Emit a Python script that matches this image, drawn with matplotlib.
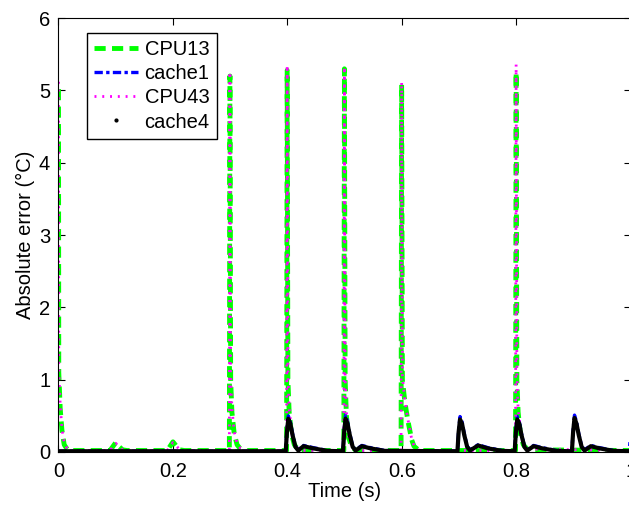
import matplotlib
matplotlib.use('Agg')
import matplotlib.pyplot as plt
from matplotlib.lines import Line2D

plt.rcParams['font.family'] = ['Liberation Sans', 'DejaVu Sans']
plt.rcParams['font.size'] = 14.5

# CPU13 (green dashed)
cpu13_t = [0.0, 0.0005, 0.003, 0.006, 0.010, 0.015, 0.025, 0.090, 0.100, 0.105, 0.112, 0.120,
           0.190, 0.200, 0.205, 0.212, 0.220, 0.2985, 0.2995, 0.3008, 0.303, 0.307, 0.312, 0.318,
           0.330, 0.3985, 0.3995, 0.4008, 0.403, 0.407, 0.412, 0.418, 0.430, 0.4985, 0.4995,
           0.5008, 0.503, 0.507, 0.512, 0.520, 0.5985, 0.5995, 0.6008, 0.605, 0.610, 0.617,
           0.621, 0.630, 0.7985, 0.7995, 0.8008, 0.803, 0.807, 0.812, 0.820, 1.0]
cpu13_v = [5.02, 1.1, 0.6, 0.3, 0.1, 0.04, 0.02, 0.02, 0.13, 0.08, 0.03, 0.02,
           0.02, 0.14, 0.09, 0.03, 0.02, 0.02, 5.20, 1.0, 0.55, 0.25, 0.1, 0.04,
           0.02, 0.02, 5.28, 1.0, 0.55, 0.25, 0.1, 0.04, 0.02, 0.02, 5.30,
           1.0, 0.5, 0.2, 0.07, 0.02, 0.02, 5.08, 1.0, 0.7, 0.45, 0.17,
           0.08, 0.02, 0.02, 5.25, 1.0, 0.55, 0.25, 0.1, 0.03, 0.02]

# CPU43 (magenta dotted)
cpu43_t = [0.0, 0.0005, 0.003, 0.006, 0.010, 0.015, 0.025, 0.090, 0.100, 0.105, 0.112, 0.120,
           0.190, 0.200, 0.205, 0.212, 0.220, 0.2985, 0.2995, 0.3008, 0.303, 0.307, 0.312, 0.318,
           0.330, 0.3985, 0.3995, 0.4008, 0.403, 0.407, 0.412, 0.418, 0.430, 0.4985, 0.4995,
           0.5008, 0.503, 0.507, 0.512, 0.520, 0.5985, 0.5995, 0.6008, 0.605, 0.610, 0.617,
           0.621, 0.630, 0.7985, 0.7995, 0.8008, 0.803, 0.807, 0.812, 0.820, 1.0]
cpu43_v = [5.12, 1.15, 0.65, 0.32, 0.12, 0.05, 0.02, 0.02, 0.12, 0.08, 0.03, 0.02,
           0.02, 0.13, 0.09, 0.03, 0.02, 0.02, 5.26, 1.05, 0.6, 0.28, 0.12, 0.05,
           0.02, 0.02, 5.35, 1.05, 0.6, 0.28, 0.12, 0.05, 0.02, 0.02, 5.33,
           1.05, 0.55, 0.22, 0.08, 0.02, 0.02, 5.12, 1.05, 0.72, 0.47, 0.18,
           0.09, 0.02, 0.02, 5.36, 1.05, 0.6, 0.28, 0.12, 0.04, 0.02]

# cache1 (blue dash-dot)
cache1_t = [0.0, 0.397, 0.3990, 0.4015, 0.405, 0.409, 0.414, 0.419, 0.428, 0.445, 0.470,
            0.497, 0.4990, 0.5015, 0.505, 0.509, 0.514, 0.519, 0.530, 0.545, 0.570,
            0.697, 0.6990, 0.7015, 0.705, 0.709, 0.714, 0.719, 0.733, 0.750, 0.775,
            0.797, 0.7990, 0.8015, 0.805, 0.809, 0.814, 0.819, 0.830, 0.845, 0.870,
            0.897, 0.8990, 0.9015, 0.905, 0.909, 0.914, 0.919, 0.930, 0.945, 0.970,
            0.997, 1.0]
cache1_v = [0.01, 0.01, 0.30, 0.50, 0.42, 0.25, 0.08, 0.03, 0.09, 0.06, 0.02,
            0.01, 0.30, 0.51, 0.42, 0.25, 0.08, 0.03, 0.09, 0.06, 0.02,
            0.01, 0.30, 0.49, 0.42, 0.25, 0.08, 0.03, 0.10, 0.06, 0.02,
            0.01, 0.30, 0.49, 0.42, 0.25, 0.08, 0.03, 0.09, 0.06, 0.02,
            0.01, 0.30, 0.51, 0.42, 0.25, 0.08, 0.03, 0.09, 0.06, 0.02,
            0.01, 0.27]

# cache4 (black)
cache4_t = [0.0, 0.397, 0.3990, 0.4015, 0.405, 0.409, 0.414, 0.419, 0.428, 0.445, 0.470,
            0.497, 0.4990, 0.5015, 0.505, 0.509, 0.514, 0.519, 0.530, 0.545, 0.570,
            0.697, 0.6990, 0.7015, 0.705, 0.709, 0.714, 0.719, 0.733, 0.750, 0.775,
            0.797, 0.7990, 0.8015, 0.805, 0.809, 0.814, 0.819, 0.830, 0.845, 0.870,
            0.897, 0.8990, 0.9015, 0.905, 0.909, 0.914, 0.919, 0.930, 0.945, 0.970,
            1.0]
cache4_v = [0.01, 0.01, 0.27, 0.46, 0.39, 0.23, 0.07, 0.02, 0.08, 0.05, 0.015,
            0.01, 0.27, 0.46, 0.39, 0.23, 0.07, 0.02, 0.08, 0.05, 0.015,
            0.01, 0.27, 0.45, 0.39, 0.23, 0.07, 0.02, 0.09, 0.05, 0.015,
            0.01, 0.27, 0.45, 0.39, 0.23, 0.07, 0.02, 0.08, 0.05, 0.015,
            0.01, 0.27, 0.47, 0.39, 0.23, 0.07, 0.02, 0.08, 0.05, 0.015,
            0.01]

xticks = [0, 0.2, 0.4, 0.6, 0.8, 1]
xticklabels = ['0', '0.2', '0.4', '0.6', '0.8', '1']
yticks = [0, 1, 2, 3, 4, 5, 6]

fig = plt.figure(figsize=(6.29, 5.05), dpi=100)
ax = fig.add_axes([0.093, 0.105, 0.910, 0.859])

ax.plot(cpu13_t, cpu13_v, color='#00ff00', lw=3.5, dashes=(2.3, 1.3))
ax.plot(cache1_t, cache1_v, color='#0000ff', lw=2.4, dashes=(2.5, 1.0, 1.0, 1.0))
ax.plot(cpu43_t, cpu43_v, color='#ff00ff', lw=2.0, dashes=(0.7, 2.1))
ax.plot(cache4_t, cache4_v, color='black', lw=3.0)

ax.set_xlim(0, 1)
ax.set_ylim(0, 6)
ax.set_xticks(xticks)
ax.set_xticklabels(xticklabels)
ax.set_yticks(yticks)
ax.tick_params(direction='in', top=True, right=True, length=5, width=0.8)
ax.tick_params(axis='x', pad=7)
ax.tick_params(axis='y', pad=6)
for s in ax.spines.values():
    s.set_linewidth(0.8)

ax.set_xlabel('Time (s)', labelpad=1)
ax.set_ylabel('Absolute error (\u00b0C)', labelpad=3)

handles = [
    Line2D([], [], color='#00ff00', lw=3.5, dashes=(2.3, 1.3)),
    Line2D([], [], color='#0000ff', lw=2.4, dashes=(2.5, 1.0, 1.0, 1.0)),
    Line2D([], [], color='#ff00ff', lw=2.0, dashes=(0.7, 2.1)),
    Line2D([], [], color='black', marker='.', markersize=4, linestyle='none'),
]
leg = ax.legend(handles, ['CPU13', 'cache1', 'CPU43', 'cache4'],
                loc='upper left', bbox_to_anchor=(0.05, 0.965), borderaxespad=0,
                fancybox=False, framealpha=1, edgecolor='black',
                handlelength=2.2, handletextpad=0.3, labelspacing=0.25,
                borderpad=0.35, fontsize=14.5)
leg.get_frame().set_linewidth(1.0)

fig.savefig('out.png', dpi=100)
